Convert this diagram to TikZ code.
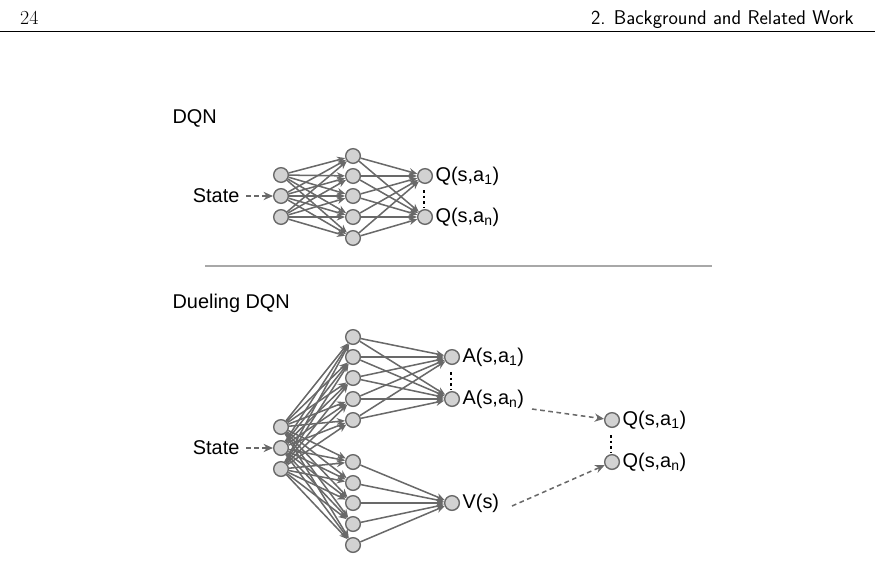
\documentclass[tikz,border=0pt]{standalone}
\usepackage{fontspec}
\newfontfamily\diagfont{Liberation Sans}
\usetikzlibrary{arrows.meta}
\definecolor{edgegray}{RGB}{105,105,105}
\definecolor{unitfill}{RGB}{210,210,210}
\tikzset{
  unit/.style={circle,draw=edgegray,fill=unitfill,line width=1.2pt,minimum size=0.44cm,inner sep=0pt},
  conn/.style={draw=edgegray,line width=1.3pt,-{Stealth[length=7pt,width=6pt]}},
  feed/.style={draw=edgegray,line width=1.3pt,dash pattern=on 4pt off 3pt,-{Stealth[length=8pt,width=7pt]}},
  lbl/.style={font=\diagfont\fontsize{17}{20}\selectfont,inner sep=2pt},
  dots/.style={line width=2.4pt,dash pattern=on 2.2pt off 2.6pt}
}
\begin{document}
\begin{tikzpicture}[x=0.03cm,y=-0.03cm]
\useasboundingbox (0,0) rectangle (875,562);
% Header
\node[anchor=base west,font=\fontsize{17}{20}\selectfont,inner sep=0pt] (page) at (20,25) {24};
\node[anchor=base east,font=\sffamily\fontsize{17}{20}\selectfont,inner sep=0pt] (head) at (854,25) {2. Background and Related Work};
\draw[line width=0.7pt] (0,31) -- (875,31);
% DQN
\node[lbl,anchor=west] (dqn) at (170,118) {DQN};
\foreach \i/\y in {1/175,2/196,3/217} \node[unit] (in\i) at (281,\y) {};
\foreach \i/\y in {1/156,2/176,3/196,4/217,5/238} \node[unit] (h\i) at (353,\y) {};
\node[unit] (q1) at (425,176) {};
\node[unit] (qn) at (425,217) {};
\foreach \i in {1,2,3} \foreach \j in {1,...,5} \draw[conn] (in\i) -- (h\j);
\foreach \j in {1,...,5} {\draw[conn] (h\j) -- (q1); \draw[conn] (h\j) -- (qn);}
\node[lbl,anchor=west] (lq1) at (q1.east) {Q(s,a\textsubscript{1})};
\node[lbl,anchor=west] (lqn) at (qn.east) {Q(s,a\textsubscript{n})};
\draw[dots] (424,190) coordinate (d1a) -- (424,207) coordinate (d1b);
\node[lbl,anchor=east] (st1) at (242,196) {State};
\coordinate (st1e) at (246,196);
\draw[feed] (st1e) -- (in2);
% separator
\draw[draw=unitfill!80!black,line width=1.2pt] (205,266) -- (712,266);
% Dueling DQN
\node[lbl,anchor=west] (duel) at (170,303) {Dueling DQN};
\foreach \i/\y in {1/427,2/448,3/469} \node[unit] (din\i) at (281,\y) {};
\foreach \i/\y in {1/337,2/357,3/378,4/399,5/420} \node[unit] (ha\i) at (353,\y) {};
\foreach \i/\y in {1/462,2/483,3/503,4/524,5/545} \node[unit] (hv\i) at (353,\y) {};
\node[unit] (a1) at (452,357) {};
\node[unit] (an) at (452,399) {};
\node[unit] (v) at (452,503) {};
\node[unit] (dq1) at (612,420) {};
\node[unit] (dqn2) at (612,462) {};
\foreach \i in {1,2,3} \foreach \j in {1,...,5} {\draw[conn] (din\i) -- (ha\j); \draw[conn] (din\i) -- (hv\j);}
\foreach \j in {1,...,5} {\draw[conn] (ha\j) -- (a1); \draw[conn] (ha\j) -- (an); \draw[conn] (hv\j) -- (v);}
\node[lbl,anchor=west] (la1) at (a1.east) {A(s,a\textsubscript{1})};
\node[lbl,anchor=west] (lan) at (an.east) {A(s,a\textsubscript{n})};
\node[lbl,anchor=west] (lv) at (v.east) {V(s)};
\node[lbl,anchor=west] (ldq1) at (dq1.east) {Q(s,a\textsubscript{1})};
\node[lbl,anchor=west] (ldqn) at (dqn2.east) {Q(s,a\textsubscript{n})};
\draw[dots] (451,372) coordinate (d2a) -- (451,389) coordinate (d2b);
\draw[dots] (611,435) coordinate (d3a) -- (611,452) coordinate (d3b);
\node[lbl,anchor=east] (st2) at (242,448) {State};
\coordinate (st2e) at (246,448);
\draw[feed] (st2e) -- (din2);
\coordinate (ane) at (532,409);
\coordinate (ve) at (512,506);
\draw[feed] (ane) -- (dq1);
\draw[feed] (ve) -- (dqn2);
\end{tikzpicture}
\end{document}
